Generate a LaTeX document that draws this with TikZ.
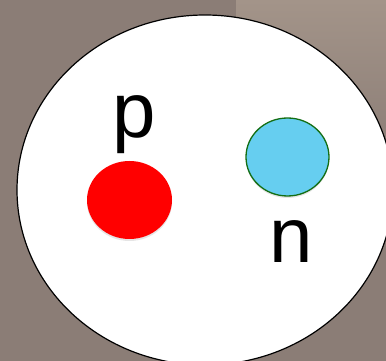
\documentclass[tikz,border=0pt]{standalone}
\usepackage{fontspec}
\setmainfont{Liberation Sans}
\usetikzlibrary{shapes.geometric,shadows}
\definecolor{wall}{RGB}{139,125,118}
\definecolor{walllight}{RGB}{163,148,137}
\definecolor{nblue}{RGB}{102,206,240}
\definecolor{ngreen}{RGB}{20,110,20}
\begin{document}
\begin{tikzpicture}[x=1pt,y=1pt,
  letter/.style={font=\fontsize{78}{80}\selectfont,anchor=base,inner sep=0pt}]
\useasboundingbox (0,0) rectangle (386,361);
\fill[wall] (0,0) rectangle (386,361);
\shade[top color=walllight,bottom color=wall] (236,200) rectangle (386,361);
\draw[fill=white,line width=1.2pt] (205,171) ellipse (188 and 175);
\node[ellipse,fill=red,minimum width=85,minimum height=78,inner sep=0pt,
  drop shadow={opacity=0.2,shadow xshift=0pt,shadow yshift=-2pt}] (proton) at (129.5,161) {};
\node[ellipse,fill=nblue,draw=ngreen,line width=1.3pt,minimum width=83,minimum height=78,inner sep=0pt,
  drop shadow={opacity=0.2,shadow xshift=0pt,shadow yshift=-2pt}] (neutron) at (287.5,204) {};
\node[letter] (plabel) at (134,223) {p};
\node[letter] (nlabel) at (291,98) {n};
\end{tikzpicture}
\end{document}
